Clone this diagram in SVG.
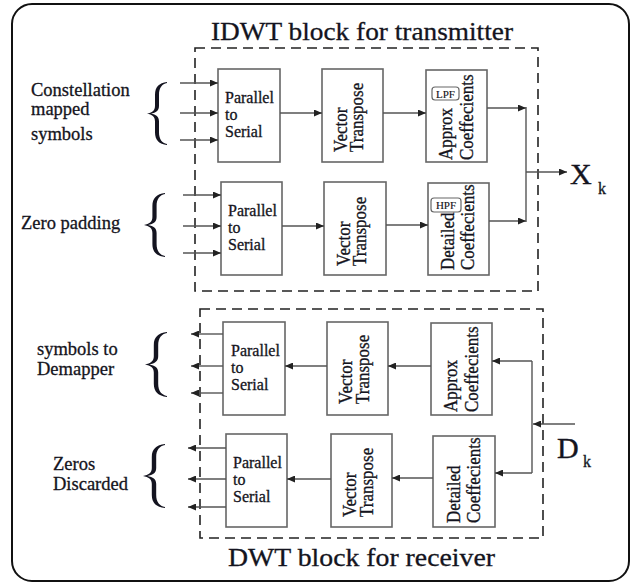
<svg xmlns="http://www.w3.org/2000/svg" width="636" height="585" viewBox="0 0 636 585">
  <style>
    .frame { fill: #ffffff; stroke: #111111; stroke-width: 2; }
    .dash { fill: none; stroke: #222222; stroke-width: 1.6; stroke-dasharray: 10 6; }
    .box { fill: #ffffff; stroke: #666666; stroke-width: 1.6; }
    .tag { fill: #ffffff; stroke: #666666; stroke-width: 1.2; }
    .wire { fill: none; stroke: #555555; stroke-width: 1.4; }
    text { font-family: "Liberation Serif", "DejaVu Serif", serif; fill: #141420; stroke: #141420; stroke-width: 0.3; }
    .lbl { font-size: 18.5px; }
    .blk { font-size: 16px; }
    .rot { font-size: 17px; }
    .small { font-size: 11px; stroke-width: 0.15; }
    .big { font-size: 30px; stroke-width: 0.4; }
    .sub { font-size: 16px; }
    .brace { fill: #141420; }
  </style>
  <defs>
    <marker id="ah" markerUnits="userSpaceOnUse" markerWidth="8" markerHeight="7" refX="8" refY="3.5" orient="auto">
      <path d="M0,0 L8,3.5 L0,7 z" fill="#222222"/>
    </marker>
    <!-- curly brace, 20 wide x 64 tall, point at left -->
    <path id="brace" d="M20,0 C12,1 8,5 8,13 L8,24 C8,29 5,31 0,32 C5,33 8,35 8,40 L8,51 C8,59 12,63 20,64 L20,63 C15,62 12,58 12,51 L12,40 C12,35 9,33 4,32 C9,31 12,29 12,24 L12,13 C12,6 15,2 20,1 Z"/>
  </defs>

  <rect class="frame" x="12" y="4" width="617" height="577" rx="20" ry="20"/>

  <!-- section titles -->
  <text x="211" y="40" font-size="26" textLength="302" lengthAdjust="spacingAndGlyphs">IDWT block for transmitter</text>
  <text x="228" y="566" font-size="25" textLength="267" lengthAdjust="spacingAndGlyphs">DWT block for receiver</text>

  <!-- dashed enclosures -->
  <rect class="dash" x="195" y="48" width="343" height="243"/>
  <rect class="dash" x="200" y="309" width="343" height="229"/>

  <!-- side labels -->
  <g id="lbl-constellation">
    <text class="lbl" x="31" y="96">Constellation</text>
    <text class="lbl" x="31" y="115">mapped</text>
    <text class="lbl" x="31" y="140">symbols</text>
    <use href="#brace" class="brace" transform="translate(147,82) scale(1,0.985)"/>
  </g>
  <g id="lbl-zero-padding">
    <text class="lbl" x="21" y="229">Zero padding</text>
    <use href="#brace" class="brace" transform="translate(144,193) scale(1.05,1)"/>
  </g>
  <g id="lbl-demapper">
    <text class="lbl" x="37" y="355">symbols to</text>
    <text class="lbl" x="37" y="375">Demapper</text>
    <use href="#brace" class="brace" transform="translate(145,332) scale(1.1,1.015)"/>
  </g>
  <g id="lbl-discarded">
    <text class="lbl" x="53" y="470">Zeros</text>
    <text class="lbl" x="53" y="490">Discarded</text>
    <use href="#brace" class="brace" transform="translate(143,444) scale(1.1,1)"/>
  </g>

  <!-- transmitter, upper branch -->
  <g id="tx-p2s-1">
    <rect class="box" x="218" y="69" width="62" height="93"/>
    <text class="blk" x="225" y="103">Parallel</text>
    <text class="blk" x="225" y="120">to</text>
    <text class="blk" x="225" y="137">Serial</text>
  </g>
  <g id="tx-vt-1">
    <rect class="box" x="322" y="69" width="61" height="93"/>
    <text class="rot" transform="translate(347,152) rotate(-90) scale(1,1.15)">Vector</text>
    <text class="rot" transform="translate(363,152) rotate(-90) scale(1,1.15)">Transpose</text>
  </g>
  <g id="tx-approx">
    <rect class="box" x="426" y="70" width="61" height="92"/>
    <rect class="tag" x="432" y="87" width="27" height="13" rx="3"/>
    <text class="small" x="445.5" y="97.5" text-anchor="middle">LPF</text>
    <text class="rot" transform="translate(452,160) rotate(-90) scale(1,1.15)">Approx</text>
    <text class="rot" transform="translate(473,160) rotate(-90) scale(1,1.15)">Coeffecients</text>
  </g>

  <!-- transmitter, lower branch -->
  <g id="tx-p2s-2">
    <rect class="box" x="221" y="182" width="61" height="93"/>
    <text class="blk" x="228" y="216">Parallel</text>
    <text class="blk" x="228" y="233">to</text>
    <text class="blk" x="228" y="250">Serial</text>
  </g>
  <g id="tx-vt-2">
    <rect class="box" x="324" y="182" width="62" height="93"/>
    <text class="rot" transform="translate(350,266) rotate(-90) scale(1,1.15)">Vector</text>
    <text class="rot" transform="translate(366,266) rotate(-90) scale(1,1.15)">Transpose</text>
  </g>
  <g id="tx-detailed">
    <rect class="box" x="428" y="183" width="61" height="92"/>
    <rect class="tag" x="431" y="198" width="30" height="14" rx="3"/>
    <text class="small" x="446" y="209" text-anchor="middle">HPF</text>
    <text class="rot" transform="translate(454,270) rotate(-90) scale(1,1.15)">Detailed</text>
    <text class="rot" transform="translate(474,270) rotate(-90) scale(1,1.15)">Coeffecients</text>
  </g>

  <g id="out-xk">
    <text class="big" x="570" y="184">X</text>
    <text class="sub" x="598" y="194">k</text>
  </g>

  <!-- receiver, upper branch -->
  <g id="rx-p2s-1">
    <rect class="box" x="223" y="322" width="62" height="93"/>
    <text class="blk" x="231" y="356">Parallel</text>
    <text class="blk" x="231" y="373">to</text>
    <text class="blk" x="231" y="390">Serial</text>
  </g>
  <g id="rx-vt-1">
    <rect class="box" x="327" y="322" width="61" height="93"/>
    <text class="rot" transform="translate(352,404) rotate(-90) scale(1,1.15)">Vector</text>
    <text class="rot" transform="translate(369,404) rotate(-90) scale(1,1.15)">Transpose</text>
  </g>
  <g id="rx-approx">
    <rect class="box" x="431" y="323" width="61" height="92"/>
    <text class="rot" transform="translate(457,412) rotate(-90) scale(1,1.15)">Approx</text>
    <text class="rot" transform="translate(478,412) rotate(-90) scale(1,1.15)">Coeffecients</text>
  </g>

  <!-- receiver, lower branch -->
  <g id="rx-p2s-2">
    <rect class="box" x="226" y="434" width="61" height="93"/>
    <text class="blk" x="233" y="468">Parallel</text>
    <text class="blk" x="233" y="485">to</text>
    <text class="blk" x="233" y="502">Serial</text>
  </g>
  <g id="rx-vt-2">
    <rect class="box" x="331" y="434" width="61" height="93"/>
    <text class="rot" transform="translate(356,517) rotate(-90) scale(1,1.15)">Vector</text>
    <text class="rot" transform="translate(373,517) rotate(-90) scale(1,1.15)">Transpose</text>
  </g>
  <g id="rx-detailed">
    <rect class="box" x="433" y="436" width="62" height="91"/>
    <text class="rot" transform="translate(460,523) rotate(-90) scale(1,1.15)">Detailed</text>
    <text class="rot" transform="translate(480,523) rotate(-90) scale(1,1.15)">Coeffecients</text>
  </g>

  <g id="in-dk">
    <text class="big" x="557" y="458">D</text>
    <text class="sub" x="583" y="467">k</text>
  </g>

  <g id="connectors">
    <!-- transmitter inputs -->
    <line class="wire" x1="180" y1="83" x2="218" y2="83" marker-end="url(#ah)"/>
    <line class="wire" x1="180" y1="113" x2="218" y2="113" marker-end="url(#ah)"/>
    <line class="wire" x1="180" y1="140" x2="218" y2="140" marker-end="url(#ah)"/>
    <line class="wire" x1="183" y1="195" x2="221" y2="195" marker-end="url(#ah)"/>
    <line class="wire" x1="183" y1="226" x2="221" y2="226" marker-end="url(#ah)"/>
    <line class="wire" x1="183" y1="253" x2="221" y2="253" marker-end="url(#ah)"/>
    <!-- transmitter chain -->
    <line class="wire" x1="280" y1="113" x2="322" y2="113" marker-end="url(#ah)"/>
    <line class="wire" x1="383" y1="113" x2="426" y2="113" marker-end="url(#ah)"/>
    <line class="wire" x1="282" y1="226" x2="324" y2="226" marker-end="url(#ah)"/>
    <line class="wire" x1="386" y1="225" x2="428" y2="225" marker-end="url(#ah)"/>
    <line class="wire" x1="487" y1="108" x2="526" y2="108" marker-end="url(#ah)"/>
    <line class="wire" x1="489" y1="221" x2="526" y2="221" marker-end="url(#ah)"/>
    <line class="wire" x1="526" y1="107" x2="526" y2="222"/>
    <line class="wire" x1="526" y1="172" x2="567" y2="172" marker-end="url(#ah)"/>
    <!-- receiver input -->
    <line class="wire" x1="575" y1="424" x2="533" y2="424" marker-end="url(#ah)"/>
    <line class="wire" x1="532" y1="361" x2="532" y2="473"/>
    <line class="wire" x1="532" y1="361" x2="492" y2="361" marker-end="url(#ah)"/>
    <line class="wire" x1="532" y1="473" x2="495" y2="473" marker-end="url(#ah)"/>
    <!-- receiver chain -->
    <line class="wire" x1="431" y1="366" x2="388" y2="366" marker-end="url(#ah)"/>
    <line class="wire" x1="327" y1="366" x2="285" y2="366" marker-end="url(#ah)"/>
    <line class="wire" x1="433" y1="478" x2="392" y2="478" marker-end="url(#ah)"/>
    <line class="wire" x1="331" y1="479" x2="287" y2="479" marker-end="url(#ah)"/>
    <!-- receiver outputs -->
    <line class="wire" x1="223" y1="334" x2="191" y2="334" marker-end="url(#ah)"/>
    <line class="wire" x1="223" y1="366" x2="191" y2="366" marker-end="url(#ah)"/>
    <line class="wire" x1="223" y1="393" x2="191" y2="393" marker-end="url(#ah)"/>
    <line class="wire" x1="226" y1="448" x2="188" y2="448" marker-end="url(#ah)"/>
    <line class="wire" x1="226" y1="479" x2="188" y2="479" marker-end="url(#ah)"/>
    <line class="wire" x1="226" y1="507" x2="188" y2="507" marker-end="url(#ah)"/>
  </g>
</svg>
